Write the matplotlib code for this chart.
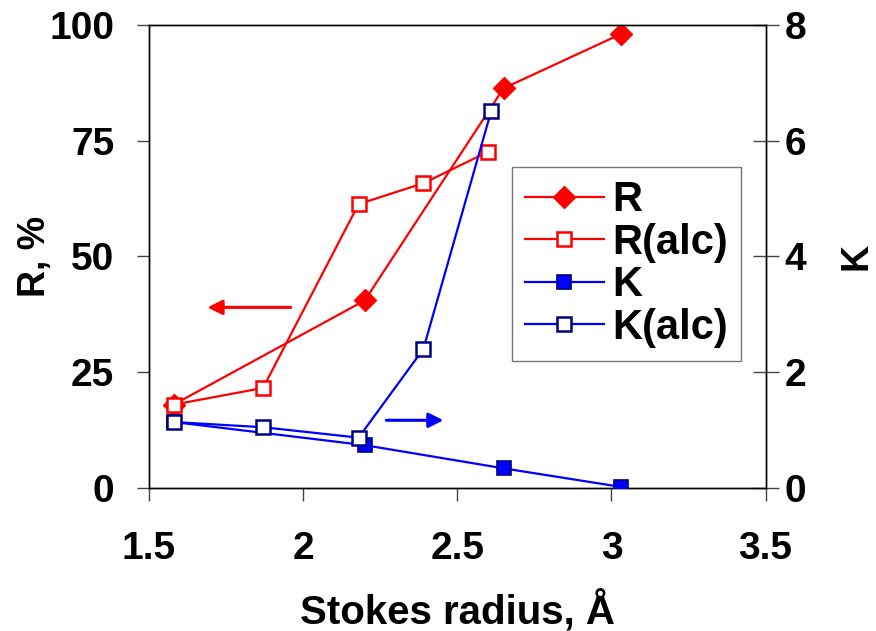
import matplotlib
matplotlib.use("Agg")
from matplotlib import pyplot as plt

plt.rcParams['font.family'] = ['Liberation Sans', 'DejaVu Sans']
plt.rcParams['font.weight'] = 'bold'

# Stokes radius (A) for each series
x_r = [1.58, 2.20, 2.65, 3.03]
x_ralc = [1.58, 1.87, 2.18, 2.39, 2.60]
x_k = [1.58, 2.20, 2.65, 3.03]
x_kalc = [1.58, 1.87, 2.18, 2.39, 2.61]

# rejection R, %
r = [18.0, 40.5, 86.3, 98.0]
r_alc = [18.0, 21.6, 61.3, 65.8, 72.6]
# K on the right axis
k = [1.14, 0.74, 0.34, 0.02]
k_alc = [1.14, 1.05, 0.87, 2.40, 6.51]

xticks = [1.5, 2, 2.5, 3, 3.5]
xtick_labels = ['1.5', '2', '2.5', '3', '3.5']

fs = 28

fig = plt.figure(figsize=(8.76, 6.31), dpi=100)
ax = fig.add_axes([0.170, 0.2266, 0.704, 0.734])
ax2 = ax.twinx()

l1, = ax.plot(x_r, r, color='red', lw=1.6, marker='D', ms=11,
              mfc='red', mec='red', label='R', zorder=3)
l2, = ax.plot(x_ralc, r_alc, color='red', lw=1.6, marker='s', ms=9.5,
              mfc='white', mec='red', mew=1.8, label='R(alc)', zorder=3)
l3, = ax2.plot(x_k, k, color='blue', lw=1.6, marker='s', ms=10,
               mfc='blue', mec='#000080', mew=1.2, label='K', zorder=3)
l4, = ax2.plot(x_kalc, k_alc, color='blue', lw=1.6, marker='s', ms=9.5,
               mfc='white', mec='#000080', mew=1.8, label='K(alc)', zorder=3)

ax.set_xlim(1.5, 3.5)
ax.set_ylim(0, 100)
ax2.set_ylim(0, 8)
ax.set_xticks(xticks)
ax.set_xticklabels(xtick_labels)
ax.set_yticks([0, 25, 50, 75, 100])
ax2.set_yticks([0, 2, 4, 6, 8])

for a in (ax, ax2):
    for s in a.spines.values():
        s.set_linewidth(1.0)
ax.tick_params(axis='x', labelsize=fs, width=1, length=9, direction='out',
               pad=22, color='#444444')
ax.tick_params(axis='y', labelsize=fs, width=1, length=9, direction='out',
               pad=16, color='#444444')
ax2.tick_params(axis='y', labelsize=fs, width=1, length=19, direction='inout',
                pad=4, color='#444444')

ax.set_xlabel('Stokes radius, Å', fontsize=29, fontweight='bold', labelpad=16)
ax.set_ylabel('R, %', fontsize=27, fontweight='bold', labelpad=-3)
ax2.set_ylabel('K', fontsize=27, fontweight='bold', labelpad=23)

# arrows pointing to the axis each pair of curves belongs to
ax.annotate('', xy=(1.69, 39), xytext=(1.96, 39),
            arrowprops=dict(arrowstyle='-|>', color='red', lw=2.2,
                            mutation_scale=22, shrinkA=0, shrinkB=0))
ax2.annotate('', xy=(2.455, 1.17), xytext=(2.27, 1.17),
             arrowprops=dict(arrowstyle='-|>', color='blue', lw=2.2,
                             mutation_scale=22, shrinkA=0, shrinkB=0))

leg = ax2.legend(handles=[l1, l2, l3, l4], loc='upper left',
                 bbox_to_anchor=(0.588, 0.693), fontsize=30, frameon=True,
                 fancybox=False, edgecolor='#555555', handlelength=1.9,
                 handletextpad=0.2, labelspacing=0.06, borderpad=0.32,
                 borderaxespad=0)
leg.get_frame().set_linewidth(1.0)

fig.savefig('out.png', dpi=100)
